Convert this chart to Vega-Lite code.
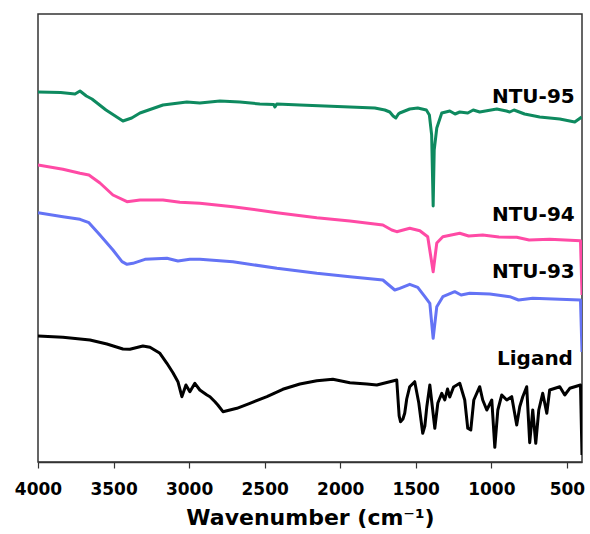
{
  "$schema": "https://vega.github.io/schema/vega-lite/v6.json",
  "width": 544,
  "height": 448,
  "autosize": {"type": "none"},
  "padding": {"left": 38, "top": 14, "right": 8, "bottom": 72},
  "background": "white",
  "config": {
    "view": {"stroke": "#333333", "strokeWidth": 1.5},
    "font": "DejaVu Sans"
  },
  "datasets": {
    "spectra": [
      {"s": "NTU-95", "wn": 4000, "t": 369}, {"s": "NTU-95", "wn": 3850, "t": 368.5}, {"s": "NTU-95", "wn": 3755, "t": 367}, {"s": "NTU-95", "wn": 3722, "t": 370}, {"s": "NTU-95", "wn": 3680, "t": 365}, {"s": "NTU-95", "wn": 3643, "t": 362}, {"s": "NTU-95", "wn": 3550, "t": 351}, {"s": "NTU-95", "wn": 3438, "t": 340}, {"s": "NTU-95", "wn": 3380, "t": 343}, {"s": "NTU-95", "wn": 3325, "t": 348}, {"s": "NTU-95", "wn": 3173, "t": 356}, {"s": "NTU-95", "wn": 3015, "t": 359}, {"s": "NTU-95", "wn": 2929, "t": 358}, {"s": "NTU-95", "wn": 2862, "t": 359}, {"s": "NTU-95", "wn": 2796, "t": 360}, {"s": "NTU-95", "wn": 2664, "t": 359}, {"s": "NTU-95", "wn": 2532, "t": 357}, {"s": "NTU-95", "wn": 2440, "t": 356.5}, {"s": "NTU-95", "wn": 2432, "t": 354}, {"s": "NTU-95", "wn": 2420, "t": 357}, {"s": "NTU-95", "wn": 2267, "t": 356}, {"s": "NTU-95", "wn": 2102, "t": 355}, {"s": "NTU-95", "wn": 1936, "t": 354}, {"s": "NTU-95", "wn": 1771, "t": 353}, {"s": "NTU-95", "wn": 1705, "t": 351}, {"s": "NTU-95", "wn": 1672, "t": 349}, {"s": "NTU-95", "wn": 1650, "t": 345}, {"s": "NTU-95", "wn": 1632, "t": 343}, {"s": "NTU-95", "wn": 1615, "t": 347}, {"s": "NTU-95", "wn": 1606, "t": 348}, {"s": "NTU-95", "wn": 1540, "t": 352}, {"s": "NTU-95", "wn": 1487, "t": 353}, {"s": "NTU-95", "wn": 1430, "t": 351}, {"s": "NTU-95", "wn": 1410, "t": 346}, {"s": "NTU-95", "wn": 1395, "t": 326}, {"s": "NTU-95", "wn": 1385, "t": 255}, {"s": "NTU-95", "wn": 1378, "t": 311}, {"s": "NTU-95", "wn": 1361, "t": 333}, {"s": "NTU-95", "wn": 1328, "t": 348}, {"s": "NTU-95", "wn": 1275, "t": 350}, {"s": "NTU-95", "wn": 1240, "t": 347}, {"s": "NTU-95", "wn": 1209, "t": 349}, {"s": "NTU-95", "wn": 1156, "t": 348}, {"s": "NTU-95", "wn": 1120, "t": 351}, {"s": "NTU-95", "wn": 1077, "t": 349}, {"s": "NTU-95", "wn": 964, "t": 352}, {"s": "NTU-95", "wn": 900, "t": 350}, {"s": "NTU-95", "wn": 878, "t": 349}, {"s": "NTU-95", "wn": 850, "t": 351}, {"s": "NTU-95", "wn": 780, "t": 347}, {"s": "NTU-95", "wn": 713, "t": 345}, {"s": "NTU-95", "wn": 680, "t": 344}, {"s": "NTU-95", "wn": 547, "t": 342}, {"s": "NTU-95", "wn": 448, "t": 339}, {"s": "NTU-95", "wn": 402, "t": 344},

      {"s": "NTU-94", "wn": 4000, "t": 296}, {"s": "NTU-94", "wn": 3835, "t": 291.7}, {"s": "NTU-94", "wn": 3722, "t": 287.7}, {"s": "NTU-94", "wn": 3663, "t": 286}, {"s": "NTU-94", "wn": 3590, "t": 278}, {"s": "NTU-94", "wn": 3504, "t": 266}, {"s": "NTU-94", "wn": 3411, "t": 259.3}, {"s": "NTU-94", "wn": 3325, "t": 261}, {"s": "NTU-94", "wn": 3173, "t": 261}, {"s": "NTU-94", "wn": 3061, "t": 258.7}, {"s": "NTU-94", "wn": 2929, "t": 257.7}, {"s": "NTU-94", "wn": 2710, "t": 254.3}, {"s": "NTU-94", "wn": 2419, "t": 248.3}, {"s": "NTU-94", "wn": 2155, "t": 243.3}, {"s": "NTU-94", "wn": 1936, "t": 240}, {"s": "NTU-94", "wn": 1718, "t": 236}, {"s": "NTU-94", "wn": 1659, "t": 231}, {"s": "NTU-94", "wn": 1626, "t": 229.3}, {"s": "NTU-94", "wn": 1540, "t": 232.7}, {"s": "NTU-94", "wn": 1473, "t": 230.3}, {"s": "NTU-94", "wn": 1421, "t": 224.3}, {"s": "NTU-94", "wn": 1385, "t": 189.3}, {"s": "NTU-94", "wn": 1361, "t": 218}, {"s": "NTU-94", "wn": 1321, "t": 224.3}, {"s": "NTU-94", "wn": 1209, "t": 227.7}, {"s": "NTU-94", "wn": 1150, "t": 225}, {"s": "NTU-94", "wn": 1057, "t": 226}, {"s": "NTU-94", "wn": 950, "t": 224}, {"s": "NTU-94", "wn": 832, "t": 223.7}, {"s": "NTU-94", "wn": 750, "t": 221}, {"s": "NTU-94", "wn": 614, "t": 221.7}, {"s": "NTU-94", "wn": 410, "t": 220.3}, {"s": "NTU-94", "wn": 400, "t": 166},

      {"s": "NTU-93", "wn": 4000, "t": 248.3}, {"s": "NTU-93", "wn": 3835, "t": 244.3}, {"s": "NTU-93", "wn": 3722, "t": 241.7}, {"s": "NTU-93", "wn": 3663, "t": 238.3}, {"s": "NTU-93", "wn": 3590, "t": 226}, {"s": "NTU-93", "wn": 3504, "t": 211}, {"s": "NTU-93", "wn": 3444, "t": 199.3}, {"s": "NTU-93", "wn": 3411, "t": 196.7}, {"s": "NTU-93", "wn": 3372, "t": 197.7}, {"s": "NTU-93", "wn": 3292, "t": 201.7}, {"s": "NTU-93", "wn": 3147, "t": 202.7}, {"s": "NTU-93", "wn": 3074, "t": 200}, {"s": "NTU-93", "wn": 2995, "t": 201.7}, {"s": "NTU-93", "wn": 2929, "t": 201.7}, {"s": "NTU-93", "wn": 2710, "t": 199.3}, {"s": "NTU-93", "wn": 2419, "t": 192.7}, {"s": "NTU-93", "wn": 2155, "t": 187.7}, {"s": "NTU-93", "wn": 1936, "t": 184.3}, {"s": "NTU-93", "wn": 1718, "t": 181}, {"s": "NTU-93", "wn": 1639, "t": 171}, {"s": "NTU-93", "wn": 1606, "t": 172.7}, {"s": "NTU-93", "wn": 1540, "t": 176.7}, {"s": "NTU-93", "wn": 1487, "t": 173.7}, {"s": "NTU-93", "wn": 1440, "t": 164.3}, {"s": "NTU-93", "wn": 1407, "t": 157.7}, {"s": "NTU-93", "wn": 1385, "t": 122.7}, {"s": "NTU-93", "wn": 1361, "t": 154.3}, {"s": "NTU-93", "wn": 1321, "t": 164.3}, {"s": "NTU-93", "wn": 1242, "t": 169.3}, {"s": "NTU-93", "wn": 1200, "t": 166}, {"s": "NTU-93", "wn": 1143, "t": 167.7}, {"s": "NTU-93", "wn": 1010, "t": 167}, {"s": "NTU-93", "wn": 878, "t": 164.3}, {"s": "NTU-93", "wn": 820, "t": 161}, {"s": "NTU-93", "wn": 726, "t": 162.7}, {"s": "NTU-93", "wn": 547, "t": 161.7}, {"s": "NTU-93", "wn": 410, "t": 161}, {"s": "NTU-93", "wn": 400, "t": 109},

      {"s": "Ligand", "wn": 4000, "t": 125}, {"s": "Ligand", "wn": 3835, "t": 123.7}, {"s": "Ligand", "wn": 3656, "t": 121}, {"s": "Ligand", "wn": 3544, "t": 117}, {"s": "Ligand", "wn": 3438, "t": 112}, {"s": "Ligand", "wn": 3392, "t": 111.7}, {"s": "Ligand", "wn": 3306, "t": 115}, {"s": "Ligand", "wn": 3259, "t": 113.7}, {"s": "Ligand", "wn": 3193, "t": 107.7}, {"s": "Ligand", "wn": 3147, "t": 97.7}, {"s": "Ligand", "wn": 3107, "t": 88.3}, {"s": "Ligand", "wn": 3074, "t": 79.3}, {"s": "Ligand", "wn": 3048, "t": 64.3}, {"s": "Ligand", "wn": 3021, "t": 76}, {"s": "Ligand", "wn": 2995, "t": 69.3}, {"s": "Ligand", "wn": 2962, "t": 77.7}, {"s": "Ligand", "wn": 2929, "t": 71}, {"s": "Ligand", "wn": 2882, "t": 66}, {"s": "Ligand", "wn": 2862, "t": 64.3}, {"s": "Ligand", "wn": 2829, "t": 59.3}, {"s": "Ligand", "wn": 2810, "t": 56}, {"s": "Ligand", "wn": 2776, "t": 49.3}, {"s": "Ligand", "wn": 2730, "t": 51}, {"s": "Ligand", "wn": 2684, "t": 52.7}, {"s": "Ligand", "wn": 2598, "t": 57.7}, {"s": "Ligand", "wn": 2485, "t": 64.3}, {"s": "Ligand", "wn": 2380, "t": 71.7}, {"s": "Ligand", "wn": 2267, "t": 77}, {"s": "Ligand", "wn": 2155, "t": 80.3}, {"s": "Ligand", "wn": 2049, "t": 81.7}, {"s": "Ligand", "wn": 1936, "t": 78.3}, {"s": "Ligand", "wn": 1824, "t": 77}, {"s": "Ligand", "wn": 1758, "t": 76}, {"s": "Ligand", "wn": 1672, "t": 79.3}, {"s": "Ligand", "wn": 1626, "t": 81}, {"s": "Ligand", "wn": 1610, "t": 45}, {"s": "Ligand", "wn": 1601, "t": 39.3}, {"s": "Ligand", "wn": 1585, "t": 42}, {"s": "Ligand", "wn": 1573, "t": 48}, {"s": "Ligand", "wn": 1560, "t": 62}, {"s": "Ligand", "wn": 1540, "t": 74.3}, {"s": "Ligand", "wn": 1507, "t": 79.3}, {"s": "Ligand", "wn": 1480, "t": 58}, {"s": "Ligand", "wn": 1454, "t": 27.7}, {"s": "Ligand", "wn": 1440, "t": 35}, {"s": "Ligand", "wn": 1427, "t": 54.3}, {"s": "Ligand", "wn": 1407, "t": 76}, {"s": "Ligand", "wn": 1374, "t": 32.7}, {"s": "Ligand", "wn": 1354, "t": 58}, {"s": "Ligand", "wn": 1328, "t": 67.7}, {"s": "Ligand", "wn": 1308, "t": 61}, {"s": "Ligand", "wn": 1290, "t": 72}, {"s": "Ligand", "wn": 1275, "t": 64}, {"s": "Ligand", "wn": 1250, "t": 74}, {"s": "Ligand", "wn": 1209, "t": 77.7}, {"s": "Ligand", "wn": 1176, "t": 61}, {"s": "Ligand", "wn": 1156, "t": 32.7}, {"s": "Ligand", "wn": 1136, "t": 31}, {"s": "Ligand", "wn": 1116, "t": 61}, {"s": "Ligand", "wn": 1077, "t": 74.3}, {"s": "Ligand", "wn": 1057, "t": 61}, {"s": "Ligand", "wn": 1030, "t": 51}, {"s": "Ligand", "wn": 997, "t": 61}, {"s": "Ligand", "wn": 977, "t": 13.7}, {"s": "Ligand", "wn": 957, "t": 51}, {"s": "Ligand", "wn": 931, "t": 66}, {"s": "Ligand", "wn": 898, "t": 61}, {"s": "Ligand", "wn": 865, "t": 64.3}, {"s": "Ligand", "wn": 832, "t": 36}, {"s": "Ligand", "wn": 812, "t": 54.3}, {"s": "Ligand", "wn": 792, "t": 64.3}, {"s": "Ligand", "wn": 766, "t": 74.3}, {"s": "Ligand", "wn": 746, "t": 18.3}, {"s": "Ligand", "wn": 726, "t": 51}, {"s": "Ligand", "wn": 706, "t": 17.7}, {"s": "Ligand", "wn": 686, "t": 51}, {"s": "Ligand", "wn": 660, "t": 67.7}, {"s": "Ligand", "wn": 633, "t": 47.7}, {"s": "Ligand", "wn": 614, "t": 71}, {"s": "Ligand", "wn": 547, "t": 74.3}, {"s": "Ligand", "wn": 514, "t": 66}, {"s": "Ligand", "wn": 481, "t": 72.7}, {"s": "Ligand", "wn": 410, "t": 76}, {"s": "Ligand", "wn": 400, "t": 6}
    ],
    "labels": [
      {"s": "NTU-95", "wn": 448, "t": 364},
      {"s": "NTU-94", "wn": 448, "t": 246},
      {"s": "NTU-93", "wn": 448, "t": 189},
      {"s": "Ligand", "wn": 460, "t": 102}
    ]
  },
  "layer": [
    {
      "data": {"name": "spectra"},
      "mark": {"type": "line", "strokeWidth": 3, "clip": true, "strokeJoin": "round"},
      "encoding": {
        "x": {
          "field": "wn", "type": "quantitative",
          "scale": {"domain": [400, 4000], "reverse": true, "nice": false, "zero": false},
          "axis": {
            "title": "Wavenumber (cm⁻¹)",
            "values": [500, 750, 1000, 1250, 1500, 1750, 2000, 2250, 2500, 2750, 3000, 3250, 3500, 3750, 4000],
            "labelExpr": "datum.value % 500 === 0 ? datum.value : ''",
            "labelFont": "DejaVu Sans", "labelFontWeight": "bold", "labelFontSize": 17, "labelColor": "#000",
            "labelPadding": 13, "labelFlush": false, "labelOverlap": false,
            "tickSize": {"condition": {"test": "datum.value % 500 === 0", "value": 6}, "value": 3},
            "tickColor": "#333", "tickWidth": 1.2,
            "domainColor": "#333", "domainWidth": 1.5,
            "grid": false,
            "titleFont": "DejaVu Sans", "titleFontWeight": "bold", "titleFontSize": 22, "titleColor": "#000", "titlePadding": 10
          }
        },
        "y": {
          "field": "t", "type": "quantitative",
          "scale": {"domain": [-1, 447], "nice": false, "zero": false},
          "axis": null
        },
        "color": {
          "field": "s", "type": "nominal",
          "scale": {"domain": ["NTU-95", "NTU-94", "NTU-93", "Ligand"], "range": ["#0e8a5f", "#ff4aa5", "#6473f5", "#000000"]},
          "legend": null
        },
        "detail": {"field": "s"}
      }
    },
    {
      "data": {"name": "labels"},
      "mark": {"type": "text", "align": "right", "baseline": "middle", "font": "DejaVu Sans", "fontWeight": "bold", "fontSize": 20, "color": "#000"},
      "encoding": {
        "x": {"field": "wn", "type": "quantitative"},
        "y": {"field": "t", "type": "quantitative"},
        "text": {"field": "s"}
      }
    }
  ]
}
